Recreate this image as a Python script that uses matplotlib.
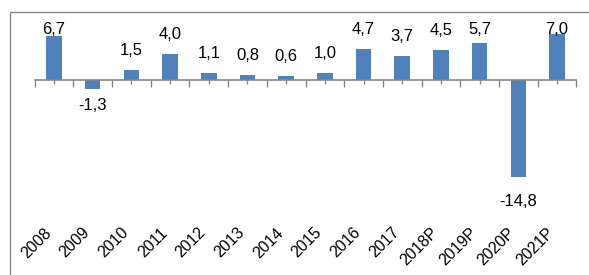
import matplotlib
matplotlib.use("Agg")
import matplotlib.pyplot as plt
from matplotlib.patches import Rectangle
import numpy as np

categories = ["2008", "2009", "2010", "2011", "2012", "2013", "2014", "2015",
              "2016", "2017", "2018P", "2019P", "2020P", "2021P"]
values = [6.7, -1.3, 1.5, 4.0, 1.1, 0.8, 0.6, 1.0, 4.7, 3.7, 4.5, 5.7, -14.8, 7.0]
labels = ["6,7", "-1,3", "1,5", "4,0", "1,1", "0,8", "0,6", "1,0",
          "4,7", "3,7", "4,5", "5,7", "-14,8", "7,0"]

plt.rcParams['font.family'] = ['Liberation Sans', 'DejaVu Sans']

fig = plt.figure(figsize=(5.89, 2.75), dpi=100)
fig.patch.set_facecolor('white')
ax = fig.add_axes([0.0589, 0.2073, 0.9196, 0.6931])

x = np.arange(len(categories))
bar_color = '#4F81BD'
ax.bar(x, values, width=0.4, color=bar_color, zorder=2)

ax.set_xlim(-0.5, len(categories) - 0.5)
ax.set_ylim(-21, 8)

# zero axis with ticks
ax.spines['bottom'].set_position(('data', 0))
ax.spines['bottom'].set_color('#868686')
ax.spines['bottom'].set_linewidth(1.2)
for s in ['top', 'right', 'left']:
    ax.spines[s].set_visible(False)
ax.set_yticks([])
ax.set_xticks(np.arange(-0.5, len(categories), 1.0))
ax.set_xticks(x, minor=True)
ax.tick_params(axis='x', which='major', length=5, width=1, color='#868686',
               direction='out', labelbottom=False)
ax.tick_params(axis='x', which='minor', length=3, width=1, color='#868686',
               direction='out', labelbottom=False)

# category labels at bottom of the plot area
sec = ax.secondary_xaxis('bottom')
sec.set_xticks(x)
sec.set_xticklabels(categories, rotation=45, ha='right', va='top',
                    rotation_mode='default', fontsize=11.5)
sec.tick_params(length=0, pad=5)
sec.spines['bottom'].set_visible(False)

# data labels
top_clamp = 7.0
for xi, v, lab in zip(x, values, labels):
    if v >= 0:
        y = min(v + 2.28, top_clamp)
        ax.text(xi, y, lab, ha='center', va='baseline', fontsize=12, clip_on=False)
    else:
        off = 2.6 if v < -10 else 1.5
        ax.text(xi, v - off, lab, ha='center', va='top', fontsize=12, clip_on=False)

# outer chart frame
fig.patches.append(Rectangle((10 / 589, -0.1), 1.2, 1 - 12 / 275 + 0.1,
                             transform=fig.transFigure, fill=False,
                             edgecolor='#868686', linewidth=1.0))

fig.savefig('out.png', dpi=100)
